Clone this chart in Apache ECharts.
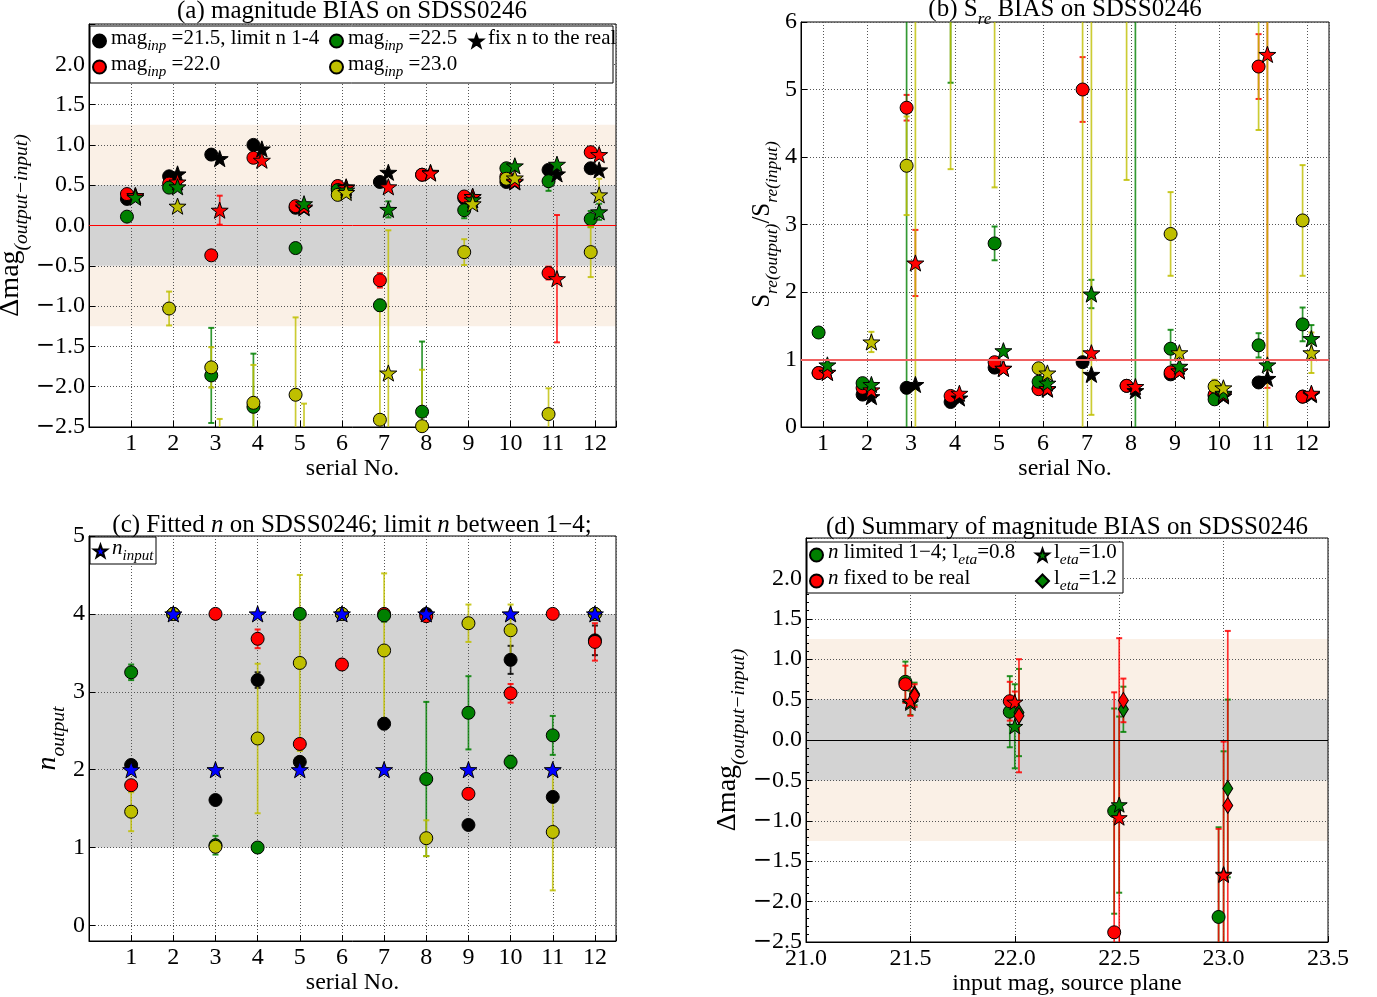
<!DOCTYPE html>
<html><head><meta charset="utf-8">
<script src="https://cdn.jsdelivr.net/npm/echarts@6/dist/echarts.min.js"></script>
<style>html,body{margin:0;padding:0;background:#fff}#c{width:1377px;height:997px}</style>
</head><body><div id="c"></div>
<script>
// ================= DATA =================
const serialNo = [1,2,3,4,5,6,7,8,9,10,11,12];

// (a) magnitude bias: circles = n limited 1-4, stars = n fixed to the real
const aCircBlack     = [0.33, 0.61, 0.88, 1.00, 0.22, 0.46, 0.54, 0.63, 0.34, 0.54, 0.69, 0.71];
const aCircRed       = [0.39, 0.52, -0.37, 0.84, 0.24, 0.49, -0.68, 0.63, 0.36, 0.61, -0.59, 0.91];
const aCircRedErr    = [null, null, null, null, null, null, 0.09, null, null, null, 0.08, null];
const aCircGreen     = [0.11, 0.47, -1.86, -2.25, -0.28, 0.44, -0.99, -2.31, 0.19, 0.71, 0.55, 0.08];
const aCircGreenErr  = [null, null, 0.59, 0.66, null, null, 0.07, 0.87, 0.10, null, 0.12, 0.10];
const aCircYellow    = [null, -1.03, -1.76, -2.20, -2.10, 0.38, -2.41, -2.49, -0.33, 0.58, -2.34, -0.33];
const aCircYellowErr = [null, 0.21, 0.25, 0.47, 0.96, null, 1.36, 0.70, 0.16, null, 0.32, 0.31];
const aStarBlack     = [0.37, 0.64, 0.83, 0.95, 0.22, 0.48, 0.66, 0.66, 0.36, 0.54, 0.64, 0.69];
const aStarRed       = [0.37, 0.54, 0.19, 0.81, 0.23, 0.47, 0.48, 0.65, 0.36, 0.55, -0.66, 0.88];
const aStarRedErr    = [null, null, 0.18, null, null, null, null, null, null, null, 0.79, null];
const aStarGreen     = [0.35, 0.48, null, null, 0.27, 0.44, 0.20, null, 0.32, 0.74, 0.76, 0.17];
const aStarGreenErr  = [null, null, null, null, null, null, 0.10, null, null, null, null, 0.10];
const aStarYellow    = [null, 0.24, -3.0, null, -3.0, 0.41, -1.83, null, 0.27, 0.59, null, 0.38];
const aStarYellowErr = [null, null, 0.60, null, 0.79, null, 1.77, null, null, null, null, 0.20];

// (b) S_re ratio
const bCircBlack     = [0.80, 0.48, 0.58, 0.37, 0.88, 0.57, 0.96, 0.61, 0.78, 0.46, 0.66, 0.45];
const bCircRed       = [0.80, 0.58, 4.73, 0.46, 0.96, 0.56, 5.00, 0.61, 0.81, 0.48, 5.34, 0.45];
const bCircRedErr    = [null, null, 0.19, null, null, null, 0.48, null, null, null, 0.48, null];
const bCircGreen     = [1.40, 0.65, 7.0, 8.0, 2.72, 0.67, null, null, 1.16, 0.41, 1.21, 1.52];
const bCircGreenErr  = [0.05, null, 7.5, 2.9, 0.25, null, null, null, 0.28, null, 0.18, 0.25];
const bCircYellow    = [null, null, 3.87, 8.0, 8.0, 0.87, 7.0, 8.0, 2.86, 0.60, 8.0, 3.06];
const bCircYellowErr = [null, null, 0.73, 4.18, 4.45, null, 7.5, 4.34, 0.62, 0.10, 3.60, 0.82];
const bStarBlack     = [0.81, 0.45, 0.63, 0.43, 0.87, 0.56, 0.78, 0.54, 0.83, 0.46, 0.72, 0.48];
const bStarRed       = [0.81, 0.55, 2.43, 0.50, 0.87, 0.57, 1.10, 0.60, 0.83, 0.48, 5.52, 0.50];
const bStarRedErr    = [null, null, 0.49, null, null, null, null, null, null, null, 4.94, null];
const bStarGreen     = [0.92, 0.63, null, null, 1.13, 0.65, 1.97, 8.0, 0.90, 0.50, 0.92, 1.31];
const bStarGreenErr  = [null, null, null, null, null, null, 0.21, 8.5, null, null, null, 0.20];
const bStarYellow    = [null, 1.26, 8.0, null, null, 0.80, 7.0, null, 1.10, 0.58, 8.0, 1.10];
const bStarYellowErr = [null, 0.15, 8.5, null, null, null, 6.82, null, null, null, 8.5, 0.30];

// (c) fitted n
const cBlack     = [2.06, 4.0, 1.61, 3.15, 2.10, 4.0, 2.59, 4.0, 1.29, 3.41, 1.65, 3.66];
const cBlackErr  = [null, null, null, 0.10, null, null, 0.07, null, null, 0.18, null, 0.19];
const cRed       = [1.80, 4.0, 4.0, 3.68, 2.33, 3.35, 4.0, 3.97, 1.69, 2.98, 4.0, 3.64];
const cRedErr    = [null, null, null, 0.12, 0.05, 0.07, null, null, null, 0.12, null, 0.24];
const cGreen     = [3.25, 4.0, 1.03, 1.00, 4.0, 4.0, 3.98, 1.88, 2.73, 2.10, 2.44, 4.0];
const cGreenErr  = [0.10, null, 0.12, null, null, null, 0.08, 0.99, 0.47, 0.08, 0.25, null];
const cYellow    = [1.46, 4.0, 1.01, 2.40, 3.37, 4.0, 3.53, 1.12, 3.88, 3.79, 1.20, 4.0];
const cYellowErr = [0.25, null, null, 0.96, 1.13, null, 0.99, 0.23, 0.24, 0.33, 0.75, null];
const cInput     = [2, 4, 2, 4, 2, 4, 2, 4, 2, 4, 2, 4];

// (d) summary
const dMag          = [21.5, 22.0, 22.5, 23.0];
const dCircGreen    = [0.72, 0.35, -0.88, -2.19];
const dCircGreenErr = [0.25, 0.44, 1.27, 1.11];
const dCircRed      = [0.69, 0.48, -2.38, -2.75];
const dCircRedErr   = [0.23, 0.24, 2.97, 1.65];
const dStarGreen    = [0.46, 0.17, -0.80, -1.66];
const dStarGreenErr = [0.15, 0.52, 1.09, 1.52];
const dStarRed      = [0.48, 0.47, -0.96, -1.67];
const dStarRedErr   = [0.18, 0.13, 2.22, 1.65];
const dDiaGreen     = [0.57, 0.34, 0.38, -0.60];
const dDiaGreenErr  = [0.14, 0.54, 0.28, 1.10];
const dDiaRed       = [0.55, 0.30, 0.49, -0.81];
const dDiaRedErr    = [0.14, 0.70, 0.27, 2.16];

// reference bands / lines
const bandInner = [[-0.5, 0.5]];
const bandOuter = [[-1.25, -0.5], [0.5, 1.25]];
const bandN = [[1, 4]];

// ================= STYLE =================
const SERIF = "'Liberation Serif', 'DejaVu Serif', serif";
const K = '#000000', R = '#ff0000', G = '#008000', Y = '#bfbf00', B = '#0000ff';
const STAR = 'path://M0,-10 L2.35,-3.24 L9.51,-3.09 L3.8,1.24 L5.88,8.09 L0,4 L-5.88,8.09 L-3.8,1.24 L-9.51,-3.09 L-2.35,-3.24 Z';
const OFF = 0.1, DOFF_C = -0.024, DOFF_D = 0.02;

function mkRich(fs, ss, pad) {
  return {
    m: {fontFamily: SERIF, fontSize: fs, color: '#000', verticalAlign: 'bottom', padding: [0, 0, pad, 0]},
    i: {fontFamily: SERIF, fontSize: fs, fontStyle: 'italic', color: '#000', verticalAlign: 'bottom', padding: [0, 0, pad, 0]},
    s: {fontFamily: SERIF, fontSize: ss, fontStyle: 'italic', color: '#000', verticalAlign: 'bottom'}
  };
}
const richBig = mkRich(24, 16, 6);
const richTitle = mkRich(25, 17, 6);
const richYName = mkRich(28, 19.5, 7);
const richYNameB = mkRich(25, 17.5, 6);
const richLeg = mkRich(21, 15, 5);
const richLegD = mkRich(21, 15.5, 5);
const richTick = {
  mi: {fontFamily: "'DejaVu Serif', serif", fontSize: 23, color: '#000'},
  d: {fontFamily: SERIF, fontSize: 24, color: '#000'}
};

function pts(xs, ys, off) {
  const out = [];
  xs.forEach((x, i) => { if (ys[i] != null) out.push([x + off, ys[i]]); });
  return out;
}
function errs(xs, ys, es, off) {
  const out = [];
  xs.forEach((x, i) => { if (ys[i] != null && es[i] != null) out.push([x + off, ys[i], es[i]]); });
  return out;
}
function makeErr(color) {
  return function (params, api) {
    const cs = params.coordSys;
    const x = api.value(0), y = api.value(1), e = api.value(2);
    const px = api.coord([x, y])[0];
    const yT = api.coord([x, y + e])[1], yB = api.coord([x, y - e])[1];
    const top = cs.y, bot = cs.y + cs.height;
    const a = Math.max(top, Math.min(bot, yT)), b = Math.max(top, Math.min(bot, yB));
    const children = [];
    if (b - a > 0.5) children.push({type: 'line', shape: {x1: px, y1: a, x2: px, y2: b}, style: {stroke: color, lineWidth: 1.7, opacity: 0.8}});
    [yT, yB].forEach(c => {
      if (c >= top - 0.5 && c <= bot + 0.5) children.push({type: 'line', shape: {x1: px - 3, y1: c, x2: px + 3, y2: c}, style: {stroke: color, lineWidth: 2, opacity: 0.85}});
    });
    return {type: 'group', children};
  };
}
function errSeries(gi, data, color) {
  return {type: 'custom', xAxisIndex: gi, yAxisIndex: gi, data, renderItem: makeErr(color), z: 3, silent: true, animation: false};
}
function scat(name, gi, data, symbol, size, color, extra) {
  return Object.assign({
    type: 'scatter', name, xAxisIndex: gi, yAxisIndex: gi, data, symbol, symbolSize: size,
    symbolKeepAspect: true, clip: true, silent: true, z: 4,
    itemStyle: {color, borderColor: '#000', borderWidth: 1, opacity: 1}
  }, extra || {});
}
function bandSeries(gi, data, color, xRef) {
  return {
    type: 'custom', xAxisIndex: gi, yAxisIndex: gi, data, z: -1, silent: true,
    renderItem: function (params, api) {
      const cs = params.coordSys;
      const y1 = api.coord([xRef, api.value(0)])[1];
      const y2 = api.coord([xRef, api.value(1)])[1];
      return {type: 'rect', shape: {x: cs.x, y: Math.min(y1, y2), width: cs.width, height: Math.abs(y1 - y2)}, style: {fill: color}};
    }
  };
}
function hline(val, color, w) {
  return {silent: true, symbol: ['none', 'none'], label: {show: false},
    lineStyle: {color, type: 'solid', width: w, opacity: 1}, data: [{yAxis: val}], animation: false};
}

const fmtMag = v => {
  if (Math.abs(v - 2.5) < 1e-9) return '';
  const s = v.toFixed(1);
  return s[0] === '-' ? '{mi|\u2212}{d|' + s.slice(1) + '}' : '{d|' + s + '}';
};
const fmtSerial = v => serialNo.includes(v) ? String(v) : '';
const fmtInt = v => Number.isInteger(v) ? String(v) : '';

const gridLine = {show: true, lineStyle: {color: '#555', type: [1, 2], width: 1}};
const tick = {show: true, inside: true, length: 6, lineStyle: {color: '#000'}};
const axLine = {show: true, onZero: false, lineStyle: {color: '#000', width: 1}};
const lab = (fmt, m) => ({color: '#000', fontFamily: SERIF, fontSize: 24, margin: m, formatter: fmt, rich: richTick});

// ================= SERIES =================
const series = [];
// (a)
series.push(bandSeries(0, bandOuter, '#faf0e6', 1));
series.push(bandSeries(0, bandInner, '#d3d3d3', 1));
series.push(errSeries(0, errs(serialNo, aCircRed, aCircRedErr, -OFF), R));
series.push(errSeries(0, errs(serialNo, aCircGreen, aCircGreenErr, -OFF), G));
series.push(errSeries(0, errs(serialNo, aCircYellow, aCircYellowErr, -OFF), Y));
series.push(errSeries(0, errs(serialNo, aStarRed, aStarRedErr, OFF), R));
series.push(errSeries(0, errs(serialNo, aStarGreen, aStarGreenErr, OFF), G));
series.push(errSeries(0, errs(serialNo, aStarYellow, aStarYellowErr, OFF), Y));
series.push(scat('a_c_k', 0, pts(serialNo, aCircBlack, -OFF), 'circle', 13, K, {markLine: hline(0, '#ff0000', 1)}));
series.push(scat('a_c_r', 0, pts(serialNo, aCircRed, -OFF), 'circle', 13, R));
series.push(scat('a_c_g', 0, pts(serialNo, aCircGreen, -OFF), 'circle', 13, G));
series.push(scat('a_c_y', 0, pts(serialNo, aCircYellow, -OFF), 'circle', 13, Y));
series.push(scat('a_s_k', 0, pts(serialNo, aStarBlack, OFF), STAR, 17, K));
series.push(scat('a_s_r', 0, pts(serialNo, aStarRed, OFF), STAR, 17, R));
series.push(scat('a_s_g', 0, pts(serialNo, aStarGreen, OFF), STAR, 17, G));
series.push(scat('a_s_y', 0, pts(serialNo, aStarYellow, OFF), STAR, 17, Y));
// (b)
series.push(errSeries(1, errs(serialNo, bCircRed, bCircRedErr, -OFF), R));
series.push(errSeries(1, errs(serialNo, bCircGreen, bCircGreenErr, -OFF), G));
series.push(errSeries(1, errs(serialNo, bCircYellow, bCircYellowErr, -OFF), Y));
series.push(errSeries(1, errs(serialNo, bStarRed, bStarRedErr, OFF), R));
series.push(errSeries(1, errs(serialNo, bStarGreen, bStarGreenErr, OFF), G));
series.push(errSeries(1, errs(serialNo, bStarYellow, bStarYellowErr, OFF), Y));
series.push(scat('b_c_k', 1, pts(serialNo, bCircBlack, -OFF), 'circle', 13, K, {markLine: hline(1, '#f06060', 2)}));
series.push(scat('b_c_r', 1, pts(serialNo, bCircRed, -OFF), 'circle', 13, R));
series.push(scat('b_c_g', 1, pts(serialNo, bCircGreen, -OFF), 'circle', 13, G));
series.push(scat('b_c_y', 1, pts(serialNo, bCircYellow, -OFF), 'circle', 13, Y));
series.push(scat('b_s_k', 1, pts(serialNo, bStarBlack, OFF), STAR, 17, K));
series.push(scat('b_s_r', 1, pts(serialNo, bStarRed, OFF), STAR, 17, R));
series.push(scat('b_s_g', 1, pts(serialNo, bStarGreen, OFF), STAR, 17, G));
series.push(scat('b_s_y', 1, pts(serialNo, bStarYellow, OFF), STAR, 17, Y));
// (c)
series.push(bandSeries(2, bandN, '#d3d3d3', 1));
series.push(errSeries(2, errs(serialNo, cBlack, cBlackErr, 0), K));
series.push(errSeries(2, errs(serialNo, cRed, cRedErr, 0), R));
series.push(errSeries(2, errs(serialNo, cGreen, cGreenErr, 0), G));
series.push(errSeries(2, errs(serialNo, cYellow, cYellowErr, 0), Y));
series.push(scat('c_k', 2, pts(serialNo, cBlack, 0), 'circle', 13, K));
series.push(scat('c_r', 2, pts(serialNo, cRed, 0), 'circle', 13, R));
series.push(scat('c_g', 2, pts(serialNo, cGreen, 0), 'circle', 13, G));
series.push(scat('c_y', 2, pts(serialNo, cYellow, 0), 'circle', 13, Y));
series.push(scat('c_in', 2, pts(serialNo, cInput, 0), STAR, 17, B, {z: 5}));
// (d)
series.push(bandSeries(3, bandOuter, '#faf0e6', 22));
series.push(bandSeries(3, bandInner, '#d3d3d3', 22));
series.push(errSeries(3, errs(dMag, dCircGreen, dCircGreenErr, DOFF_C), G));
series.push(errSeries(3, errs(dMag, dCircRed, dCircRedErr, DOFF_C), R));
series.push(errSeries(3, errs(dMag, dStarGreen, dStarGreenErr, 0), G));
series.push(errSeries(3, errs(dMag, dStarRed, dStarRedErr, 0), R));
series.push(errSeries(3, errs(dMag, dDiaGreen, dDiaGreenErr, DOFF_D), G));
series.push(errSeries(3, errs(dMag, dDiaRed, dDiaRedErr, DOFF_D), R));
series.push(scat('d_c_g', 3, pts(dMag, dCircGreen, DOFF_C), 'circle', 13, G, {markLine: hline(0, '#000', 1.2)}));
series.push(scat('d_c_r', 3, pts(dMag, dCircRed, DOFF_C), 'circle', 13, R));
series.push(scat('d_s_g', 3, pts(dMag, dStarGreen, 0), STAR, 16, G));
series.push(scat('d_s_r', 3, pts(dMag, dStarRed, 0), STAR, 16, R));
series.push(scat('d_d_g', 3, pts(dMag, dDiaGreen, DOFF_D), 'diamond', [10, 16], G));
series.push(scat('d_d_r', 3, pts(dMag, dDiaRed, DOFF_D), 'diamond', [10, 16], R));

// ================= LEGENDS =================
const legendLabels = {
  'a_c_k': '{m|mag}{s|inp}{m| =21.5, limit n 1-4}',
  'a_c_r': '{m|mag}{s|inp}{m| =22.0}',
  'a_c_g': '{m|mag}{s|inp}{m| =22.5}',
  'a_c_y': '{m|mag}{s|inp}{m| =23.0}',
  'a_s_k': '{m|fix n to the real}',
  'c_in': '{i|n}{s|input}',
  'd_c_g': '{i|n}{m| limited 1\u22124; l}{s|eta}{m|=0.8}',
  'd_c_r': '{i|n}{m| fixed to be real}',
  'd_s_g': '{m|l}{s|eta}{m|=1.0}',
  'd_d_g': '{m|l}{s|eta}{m|=1.2}'
};
const leg = (rich, left, top, data) => ({
  orient: 'vertical', itemGap: 0, itemWidth: 13, itemHeight: 13, selectedMode: false, z: 100,
  padding: 0, left, top, data, formatter: n => legendLabels[n], textStyle: {rich, fontFamily: SERIF, color: '#000'}
});

const chart = echarts.init(document.getElementById('c'), null, {renderer: 'canvas'});
chart.setOption({
  animation: false,
  backgroundColor: '#fff',
  grid: [
    {left: 89, top: 24, width: 527, height: 403},
    {left: 801, top: 22, width: 528, height: 405},
    {left: 89, top: 536, width: 527, height: 405},
    {left: 806, top: 538, width: 522, height: 404}
  ].map(g => Object.assign(g, {show: true, borderColor: '#000', borderWidth: 1, backgroundColor: 'transparent', containLabel: false, outerBoundsMode: 'none'})),
  xAxis: [
    {gridIndex: 0, type: 'value', min: 0, max: 12.5, interval: 1, axisLabel: lab(fmtSerial, 5), axisTick: tick, axisLine: axLine, splitLine: gridLine,
     name: '{m|serial No.}', nameLocation: 'middle', nameGap: 25, nameTextStyle: {rich: richBig}},
    {gridIndex: 1, type: 'value', min: 0.5, max: 12.5, minInterval: 1, maxInterval: 1, splitNumber: 12, axisLabel: lab(fmtSerial, 5), axisTick: tick, axisLine: axLine, splitLine: gridLine,
     name: '{m|serial No.}', nameLocation: 'middle', nameGap: 25, nameTextStyle: {rich: richBig}},
    {gridIndex: 2, type: 'value', min: 0, max: 12.5, interval: 1, axisLabel: lab(fmtSerial, 5), axisTick: tick, axisLine: axLine, splitLine: gridLine,
     name: '{m|serial No.}', nameLocation: 'middle', nameGap: 25, nameTextStyle: {rich: richBig}},
    {gridIndex: 3, type: 'value', min: 21, max: 23.5, interval: 0.5, axisLabel: lab(v => v.toFixed(1), 5), axisTick: tick, axisLine: axLine, splitLine: gridLine,
     name: '{m|input mag, source plane}', nameLocation: 'middle', nameGap: 25, nameTextStyle: {rich: richBig}}
  ],
  yAxis: [
    {gridIndex: 0, type: 'value', min: -2.5, max: 2.5, interval: 0.5, axisLabel: lab(fmtMag, 4), axisTick: tick, axisLine: axLine, splitLine: gridLine,
     name: '{m|\u0394mag}{s|(output\u2212input)}', nameLocation: 'middle', nameRotate: 90, nameGap: 52, nameTextStyle: {rich: richYName}},
    {gridIndex: 1, type: 'value', min: 0, max: 6, interval: 1, axisLabel: lab(v => String(v), 4), axisTick: tick, axisLine: axLine, splitLine: gridLine,
     name: '{m|S}{s|re(output)}{m|/S}{s|re(input)}', nameLocation: 'middle', nameRotate: 90, nameGap: 19, nameTextStyle: {rich: richYNameB}},
    {gridIndex: 2, type: 'value', min: -0.2, max: 5, minInterval: 1, maxInterval: 1, splitNumber: 5, axisLabel: lab(fmtInt, 4), axisTick: tick, axisLine: axLine, splitLine: gridLine,
     name: '{i|n}{s|output}', nameLocation: 'middle', nameRotate: 90, nameGap: 17, nameTextStyle: {rich: richYName}},
    {gridIndex: 3, type: 'value', min: -2.5, max: 2.5, interval: 0.5, axisLabel: lab(fmtMag, 4), axisTick: tick, axisLine: axLine, splitLine: gridLine,
     minorTick: {show: true, splitNumber: 5, length: 3, lineStyle: {color: '#000'}},
     name: '{m|\u0394mag}{s|(output\u2212input)}', nameLocation: 'middle', nameRotate: 90, nameGap: 54, nameTextStyle: {rich: richYName}}
  ],
  legend: [
    leg(richLeg, 92, 28, ['a_c_k', 'a_c_r']),
    leg(richLeg, 329, 28, ['a_c_g', 'a_c_y']),
    leg(richLeg, 469, 28, ['a_s_k']),
    leg(richLeg, 93, 538, ['c_in']),
    leg(richLegD, 809, 542, ['d_c_g', 'd_c_r']),
    leg(richLegD, 1035, 542, ['d_s_g', 'd_d_g'])
  ],
  graphic: [
    {type: 'rect', shape: {x: 90, y: 26, width: 523, height: 57}, style: {fill: '#fff', stroke: '#000', lineWidth: 1}, z: 90},
    {type: 'rect', shape: {x: 90, y: 537, width: 66, height: 27}, style: {fill: '#fff', stroke: '#000', lineWidth: 1}, z: 90},
    {type: 'rect', shape: {x: 807, y: 542, width: 316, height: 51}, style: {fill: '#fff', stroke: '#000', lineWidth: 1}, z: 90},
    {type: 'text', x: 352, y: -1, z: 100, style: {text: '{m|(a) magnitude BIAS on SDSS0246}', rich: richTitle, align: 'center', verticalAlign: 'top'}},
    {type: 'text', x: 1065, y: -3, z: 100, style: {text: '{m|(b) S}{s|re}{m| BIAS on SDSS0246}', rich: richTitle, align: 'center', verticalAlign: 'top'}},
    {type: 'text', x: 352, y: 513, z: 100, style: {text: '{m|(c) Fitted }{i|n}{m| on SDSS0246; limit }{i|n}{m| between 1\u22124;}', rich: richTitle, align: 'center', verticalAlign: 'top'}},
    {type: 'text', x: 1067, y: 515, z: 100, style: {text: '{m|(d) Summary of magnitude BIAS on SDSS0246}', rich: richTitle, align: 'center', verticalAlign: 'top'}}
  ],
  series
});
</script>
</body></html>
